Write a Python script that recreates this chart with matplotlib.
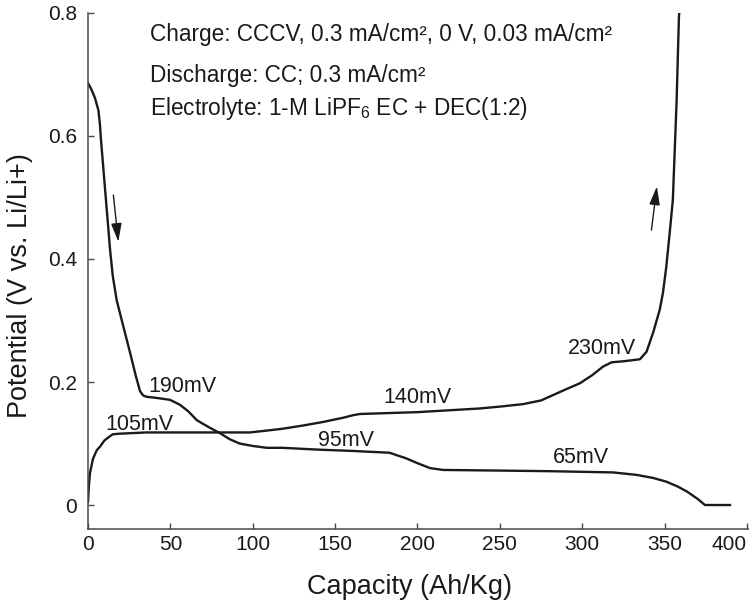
import matplotlib
matplotlib.use("Agg")
import matplotlib.pyplot as plt

plt.rcParams['font.family'] = ['Liberation Sans', 'DejaVu Sans']
plt.rcParams['mathtext.fontset'] = 'custom'
plt.rcParams['mathtext.rm'] = 'Liberation Sans'
plt.rcParams['mathtext.it'] = 'Liberation Sans:italic'

# Discharge (lithiation) curve
discharge_cap = [0, 2, 4.2, 6.3, 7.2, 7.9, 10, 12, 13.4, 15, 17.4, 21, 25.5, 29,
                 31.6, 33.5, 35.6, 42, 49.8, 55.8, 61, 66, 73, 80, 86, 92, 100,
                 108.5, 118, 140, 160, 183, 193, 200, 207.6, 215.6, 250, 280,
                 318.7, 333, 343, 351, 358, 363.5, 370, 374.5, 389.7]
discharge_v = [0.686, 0.676, 0.662, 0.642, 0.62, 0.593, 0.525, 0.46, 0.415, 0.373,
               0.333, 0.295, 0.248, 0.21, 0.185, 0.178, 0.176, 0.174, 0.171, 0.163,
               0.152, 0.138, 0.127, 0.117, 0.107, 0.100, 0.096, 0.093, 0.093,
               0.090, 0.088, 0.085, 0.076, 0.068, 0.060, 0.057, 0.056, 0.055,
               0.053, 0.049, 0.044, 0.038, 0.030, 0.022, 0.010, 0.0, 0.0]

# Charge (delithiation) curve
charge_cap = [0, 0.5, 1.2, 3, 5.3, 7.3, 10, 13.4, 15, 19.4, 35.6, 60, 80, 98.3,
              108.5, 118, 130, 142.6, 155, 160.9, 165, 200, 238, 250, 264, 275,
              282.5, 290, 298.6, 306, 312.6, 317.8, 326, 335, 339, 343, 347, 349,
              351, 353, 355, 357.3, 358.7, 359.5]
charge_v = [0.005, 0.03, 0.052, 0.075, 0.089, 0.095, 0.105, 0.112, 0.115, 0.116,
            0.118, 0.118, 0.118, 0.118, 0.121, 0.124, 0.129, 0.135, 0.142, 0.146,
            0.148, 0.151, 0.157, 0.160, 0.164, 0.170, 0.179, 0.188, 0.198, 0.211,
            0.225, 0.232, 0.234, 0.237, 0.249, 0.280, 0.317, 0.345, 0.387, 0.44,
            0.496, 0.658, 0.794, 0.82]

# Plateau annotations (left edge / baseline anchors)
plateau_text = ["105mV", "190mV", "95mV", "140mV", "230mV", "65mV"]
plateau_x = [10.3, 36.4, 139.6, 179.1, 291.4, 282.3]
plateau_y = [0.122, 0.184, 0.0965, 0.1653, 0.2455, 0.0678]

x_ticks = [0, 50, 100, 150, 200, 250, 300, 350, 400]
y_ticks = [0, 0.2, 0.4, 0.6, 0.8]
y_ticklabels = ["0", "0.2", "0.4", "0.6", "0.8"]

conditions = [
    "Charge: CCCV, 0.3 mA/cm\u00b2, 0 V, 0.03 mA/cm\u00b2",
    "Discharge: CC; 0.3 mA/cm\u00b2",
    "Electrolyte: 1-M LiPF$_{6}$ EC + DEC(1:2)",
]
conditions_y = [0.754, 0.687, 0.634]

fig = plt.figure(figsize=(7.49, 6.01), dpi=100)
ax = fig.add_axes([0.1175, 0.1198, 0.882, 0.8586])

ink = "#1a1a1a"
ax.plot(discharge_cap, discharge_v, color=ink, lw=1.7, solid_joinstyle='round')
ax.plot(charge_cap, charge_v, color=ink, lw=1.7, solid_joinstyle='round')

ax.set_xlim(0, 401)
ax.set_ylim(-0.039, 0.8)

for s in ("top", "right"):
    ax.spines[s].set_visible(False)
for s in ("left", "bottom"):
    ax.spines[s].set_color("#4a4a4a")
    ax.spines[s].set_linewidth(1.1)

ax.set_xticks(x_ticks)
ax.set_yticks(y_ticks)
ax.set_yticklabels(y_ticklabels)
ax.tick_params(direction='in', length=4.5, width=1.0, color="#4a4a4a",
               labelsize=15, labelcolor=ink)
ax.tick_params(axis='x', pad=4)
ax.tick_params(axis='y', pad=8)
# keep the last x tick label inside the figure
ax.get_xticklabels()[-1].set_horizontalalignment('right')
ax.get_xticklabels()[-1].set_x(400)

ax.set_xlabel("Capacity (Ah/Kg)", fontsize=19.5, color=ink, va='baseline')
ax.xaxis.set_label_coords(0.487, -0.126)
ax.set_ylabel("Potential (V vs. Li/Li+)", fontsize=19.5, color=ink, va='center')
ax.yaxis.set_label_coords(-0.103, 0.471)

for t, x, y in zip(plateau_text, plateau_x, plateau_y):
    ax.text(x, y, t, fontsize=15.5, color=ink, ha='left', va='baseline')

for t, y in zip(conditions, conditions_y):
    ax.text(37.6, y, t, fontsize=16.3, color=ink, ha='left', va='baseline')

# Direction arrows
arrow_style = "-|>,head_length=0.7,head_width=0.2"
ax.annotate("", xy=(18.4, 0.428), xytext=(15.4, 0.504),
            arrowprops=dict(arrowstyle=arrow_style, color=ink, lw=1.0,
                            mutation_scale=16, shrinkA=0, shrinkB=0))
ax.annotate("", xy=(345.3, 0.518), xytext=(342, 0.447),
            arrowprops=dict(arrowstyle=arrow_style, color=ink, lw=1.0,
                            mutation_scale=16, shrinkA=0, shrinkB=0))

fig.savefig("out.png", dpi=100, facecolor="white")
